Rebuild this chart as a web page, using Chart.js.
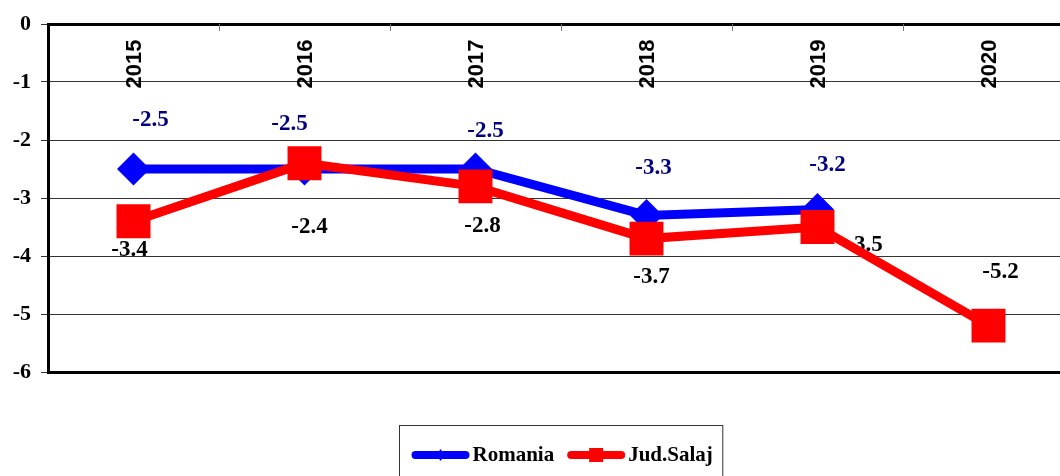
<!DOCTYPE html>
<html>
<head>
<meta charset="utf-8">
<script src="https://cdn.jsdelivr.net/npm/chart.js@4"></script>
<style>
html, body { margin: 0; padding: 0; background: #fff; overflow: hidden; }
#wrap { width: 1074px; height: 476px; }
</style>
</head>
<body>
<div id="wrap"><canvas id="myChart" width="1074" height="476"></canvas></div>
<script>
const years = ['2015', '2016', '2017', '2018', '2019', '2020'];
const romania = [-2.5, -2.5, -2.5, -3.3, -3.2, null];
const salaj = [-3.4, -2.4, -2.8, -3.7, -3.5, -5.2];
const yMin = -6;
const yMax = 0;

const serif = '"Liberation Serif", "Times New Roman", serif';
const sans = '"Liberation Sans", Arial, sans-serif';

// value labels, year labels, top tick marks (drawn under the lines)
const labelsPlugin = {
    id: 'labelsPlugin',
    beforeDatasetsDraw(chart, args, opts) {
        const ctx = chart.ctx;
        const x = chart.scales.x;
        const area = chart.chartArea;
        ctx.save();

        // small ticks at category boundaries, pointing down from top border
        ctx.strokeStyle = '#777';
        ctx.lineWidth = 1;
        for (let i = 1; i < years.length; i++) {
            const bx = Math.round((x.getPixelForValue(i - 1) + x.getPixelForValue(i)) / 2) + 0.5;
            ctx.beginPath();
            ctx.moveTo(bx, area.top);
            ctx.lineTo(bx, area.top + 7);
            ctx.stroke();
        }

        // rotated year labels inside the plot
        ctx.font = 'bold 22px ' + sans;
        ctx.fillStyle = '#000';
        ctx.textAlign = 'center';
        ctx.textBaseline = 'middle';
        years.forEach((yr, i) => {
            ctx.save();
            ctx.translate(x.getPixelForValue(i), area.top + 40);
            ctx.rotate(-Math.PI / 2);
            ctx.fillText(yr, 0, 1);
            ctx.restore();
        });

        // data labels
        ctx.font = 'bold 23px ' + serif;
        chart.data.datasets.forEach((ds, di) => {
            const meta = chart.getDatasetMeta(di);
            const offs = opts.offsets[ds.label];
            ctx.fillStyle = ds.valueColor;
            meta.data.forEach((pt, i) => {
                const v = ds.data[i];
                if (v === null) return;
                ctx.fillText(v.toFixed(1), pt.x + offs[i][0], pt.y + offs[i][1]);
            });
        });
        ctx.restore();
    }
};

// legend in a framed box under the plot
const boxLegend = {
    id: 'boxLegend',
    afterDraw(chart) {
        const ctx = chart.ctx;
        const area = chart.chartArea;
        const items = chart.data.datasets.slice().sort((a, b) => a.legendIndex - b.legendIndex);
        ctx.save();
        ctx.font = 'bold 21px ' + serif;
        const iconW = 58;
        const widths = items.map(d => iconW + 3 + ctx.measureText(d.label).width);
        const gap = 13;
        const inner = widths.reduce((a, b) => a + b, 0) + gap * (items.length - 1);
        const boxW = inner + 22;
        const cx = (area.left + area.right) / 2;
        const left = Math.round(cx - boxW / 2) + 0.5;
        const top = 425.5;
        ctx.strokeStyle = '#333';
        ctx.lineWidth = 1;
        ctx.strokeRect(left, top, boxW, 70);

        const cy = 455;
        let px = left + 12;
        items.forEach((d, k) => {
            ctx.strokeStyle = d.borderColor;
            ctx.lineWidth = 8;
            ctx.lineCap = 'round';
            ctx.beginPath();
            ctx.moveTo(px + 4, cy);
            ctx.lineTo(px + iconW - 4, cy);
            ctx.stroke();
            ctx.fillStyle = d.borderColor;
            const mx = px + iconW / 2;
            if (d.pointStyle === 'rect') {
                ctx.fillRect(mx - 7, cy - 7, 14, 14);
            } else {
                ctx.beginPath();
                ctx.moveTo(mx, cy - 6);
                ctx.lineTo(mx + 4, cy);
                ctx.lineTo(mx, cy + 6);
                ctx.lineTo(mx - 4, cy);
                ctx.closePath();
                ctx.fill();
            }
            ctx.fillStyle = '#000';
            ctx.textAlign = 'left';
            ctx.textBaseline = 'middle';
            ctx.fillText(d.label, px + iconW + 3, cy + 1);
            px += widths[k] + gap;
        });
        ctx.restore();
    }
};

const ctx = document.getElementById('myChart').getContext('2d');

const myChart = new Chart(ctx, {
    type: 'line',
    data: {
        labels: years,
        datasets: [
            {
                label: 'Romania',
                data: romania,
                borderColor: '#0000FF',
                backgroundColor: '#0000FF',
                valueColor: '#000080',
                borderWidth: 9,
                pointStyle: 'rectRot',
                pointRadius: 16.5,
                pointBorderWidth: 0,
                tension: 0,
                order: 1,
                legendIndex: 0
            },
            {
                label: 'Jud.Salaj',
                data: salaj,
                borderColor: '#FF0000',
                backgroundColor: '#FF0000',
                valueColor: '#000000',
                borderWidth: 9,
                pointStyle: 'rect',
                pointRadius: 24,
                pointBorderWidth: 0,
                tension: 0,
                order: 0,
                legendIndex: 1
            }
        ]
    },
    options: {
        responsive: false,
        animation: false,
        layout: {
            autoPadding: false,
            padding: { top: 16, right: 0, bottom: 104, left: 0 }
        },
        scales: {
            x: {
                position: 'top',
                offset: true,
                grid: { display: false },
                border: { display: true, color: '#000', width: 3 },
                ticks: { display: false }
            },
            y: {
                min: yMin,
                max: yMax,
                afterFit(scale) { scale.width = 48; },
                ticks: {
                    stepSize: 1,
                    padding: 10,
                    color: '#000',
                    font: { family: serif, size: 22, weight: 'bold' }
                },
                grid: {
                    tickLength: 7,
                    color: c => c.tick.value === yMin ? '#000' : '#333',
                    lineWidth: c => c.tick.value === yMin ? 3 : 1,
                    tickColor: '#333',
                    tickWidth: 1
                },
                border: { display: true, color: '#000', width: 3 }
            }
        },
        plugins: {
            legend: { display: false },
            tooltip: { enabled: false },
            labelsPlugin: {
                offsets: {
                    'Romania': [[17, -49], [-15, -45], [10, -38], [7, -47], [10, -45], [0, 0]],
                    'Jud.Salaj': [[-4, 29], [5, 64], [7, 40], [5, 38], [47, 18], [12, -54]]
                }
            }
        }
    },
    plugins: [labelsPlugin, boxLegend]
});
</script>
</body>
</html>
